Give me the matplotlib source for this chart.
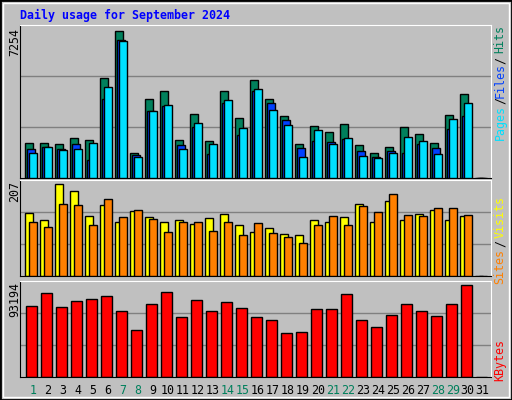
import matplotlib
matplotlib.use("Agg")
import matplotlib.pyplot as plt
from matplotlib.patches import Rectangle
import numpy as np

days = list(range(1, 32))
weekend = [1, 7, 8, 14, 15, 21, 22, 28, 29]
hits = [1738,1738,1689,1984,1886,4936,7254,1246,3903,4297,1886,3165,1837,4297,2968,4838,3903,3067,1689,2575,2280,2673,1640,1246,1542,2526,2181,1738,3116,4149,0]
files = [1443,1542,1443,1689,902,3903,6806,1148,3313,3559,1640,2526,1197,3706,2132,4297,3706,2870,1492,1837,1788,1935,1345,1050,1345,1246,1689,1492,2427,3067,0]
pages = [1246,1542,1394,1443,1738,4494,6757,1050,3313,3608,1443,2722,1689,3854,2476,4395,3362,2624,1050,2378,1689,1984,1099,1000,1246,2034,1837,1197,2919,3706,0]
visits = [142,126,207,191,135,160,123,146,133,123,126,117,130,139,114,99,108,94,92,126,123,133,162,121,169,126,139,148,126,135,0]
sites = [121,110,162,160,114,173,133,148,128,99,121,123,101,123,92,119,96,87,74,114,135,114,157,144,184,137,135,153,153,137,0]
kbytes = [71870,85090,70850,76950,78990,82040,66780,47460,73900,86110,60680,77970,66780,75940,69830,60680,57630,44410,45430,68820,68820,84070,57630,50510,62720,73900,66780,61700,73900,93194,0]

W, H = 512, 400
fig = plt.figure(figsize=(5.12, 4.0), dpi=100, facecolor="#C0C0C0")
mono = "DejaVu Sans Mono"

# border
fig.patches.append(Rectangle((0, 0), 1, 1, transform=fig.transFigure, fill=False, ec="black", lw=2))
fig.patches.append(Rectangle((3/W, 3/H), 1-6/W, 1-6/H, transform=fig.transFigure, fill=False, ec="white", lw=1))

def ax_at(x0, y0, x1, y1):
    return fig.add_axes([x0/W, 1-y1/H, (x1-x0)/W, (y1-y0)/H])

def style(ax, ymax):
    ax.set_facecolor("#C0C0C0")
    ax.set_xlim(0, 31.4)
    ax.set_ylim(0, ymax)
    for y in (ymax/3, 2*ymax/3):
        ax.axhline(y, color="#808080", lw=1, zorder=0)
    ax.set_xticks([]); ax.set_yticks([])
    ax.spines["left"].set_color("black"); ax.spines["bottom"].set_color("black")
    ax.spines["top"].set_color("white"); ax.spines["right"].set_color("white")

x = np.array(days) - 1
bw = 8/15
ax1 = ax_at(20, 25, 491, 178)
style(ax1, 7535)
ax1.bar(x+0.333, hits, width=bw, align="edge", color="#00805C", ec="black", lw=1, zorder=2)
ax1.bar(x+0.467, files, width=bw, align="edge", color="#0040FF", ec="black", lw=1, zorder=3)
ax1.bar(x+0.6, pages, width=bw, align="edge", color="#00E0FF", ec="black", lw=1, zorder=4)

ax2 = ax_at(20, 180, 491, 276)
style(ax2, 216.7)
ax2.bar(x+0.333, visits, width=bw, align="edge", color="#FFFF00", ec="black", lw=1, zorder=2)
ax2.bar(x+0.6, sites, width=bw, align="edge", color="#FF8000", ec="black", lw=1, zorder=3)

ax3 = ax_at(20, 281, 491, 377)
style(ax3, 97560)
ax3.bar(x+0.4, kbytes, width=11/15, align="edge", color="#FF0000", ec="black", lw=1, zorder=2)

def ft(xp, yp, s, **kw):
    fig.text(xp/W, 1-yp/H, s, family=mono, **kw)

ft(20, 15, "Daily usage for September 2024", color="#0000FF", fontsize=8.4, fontweight="bold", va="center", ha="left")
ft(15, 28, "7254", rotation=90, fontsize=8.4, va="top", ha="center")
ft(15, 181, "207", rotation=90, fontsize=8.4, va="top", ha="center")
ft(15, 282, "93194", rotation=90, fontsize=8.4, va="top", ha="center")

rlab = [(39, "Hits", "#00805C"), (60, "/", "black"), (80, "Files", "#0040FF"), (101, "/", "black"), (122, "Pages", "#00E0FF"),
        (217, "Visits", "#FFFF00"), (243, "/", "black"), (266, "Sites", "#FF8000"),
        (360, "KBytes", "#FF0000")]
for yp, s, c in rlab:
    ft(500, yp, s, rotation=90, color=c, fontsize=8.4, va="center", ha="center")

for d in days:
    c = "#00805C" if d in weekend else "black"
    ax3.text(d-1+0.85, -0.14, str(d), transform=ax3.get_xaxis_transform(), family=mono, fontsize=8.4,
             color=c, ha="center", va="center")

fig.savefig("out.png", dpi=100, facecolor=fig.get_facecolor())
